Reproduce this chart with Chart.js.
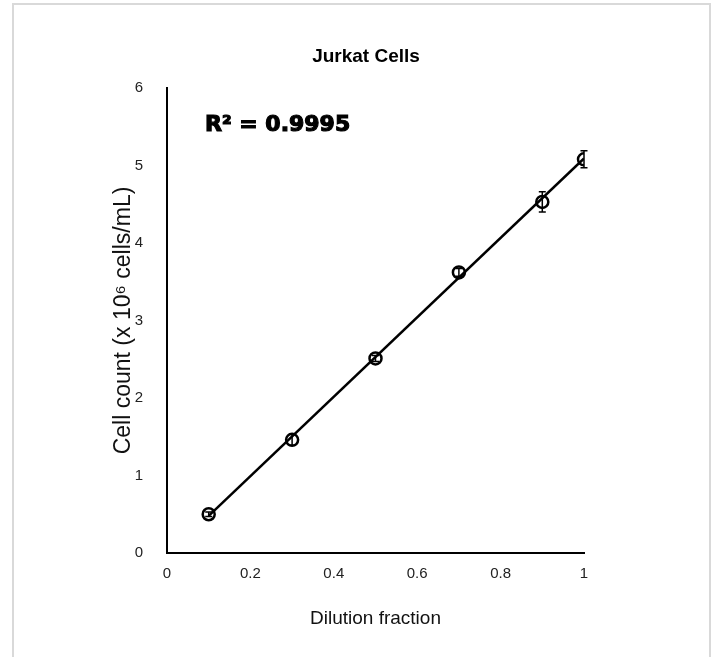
<!DOCTYPE html>
<html>
<head>
<meta charset="utf-8">
<script src="https://cdn.jsdelivr.net/npm/chart.js@4"></script>
<style>
  body { margin: 0; background: #fff; }
  #wrap { position: relative; width: 717px; height: 657px; }
  #frame { position: absolute; left: 12px; top: 3px; width: 699px; height: 700px; border: 2px solid #d9d9d9; box-sizing: border-box; }
  canvas { position: absolute; left: 0; top: 0; }
</style>
</head>
<body>
<div id="wrap">
  <div id="frame"></div>
  <canvas id="chart" width="717" height="657"></canvas>
</div>
<script>
// Data
const dilution = [0.1, 0.3, 0.5, 0.7, 0.9, 1.0];
const cellCount = [0.50, 1.46, 2.51, 3.62, 4.53, 5.08];
const errBar = [0.03, 0.07, 0.04, 0.05, 0.13, 0.11];
const trendX = [0.1, 1.0];
const trendY = [0.48, 5.09];
const xTicks = [0, 0.2, 0.4, 0.6, 0.8, 1];
const yTicks = [0, 1, 2, 3, 4, 5, 6];

const fam = "'Liberation Sans', Arial, sans-serif";
const tickFont = { family: fam, size: 15 };

// Error bars + title + R² text
const extras = {
  id: "extras",
  afterDatasetsDraw(chart) {
    const ctx = chart.ctx;
    const xs = chart.scales.x, ys = chart.scales.y;
    ctx.save();
    ctx.strokeStyle = "#000";
    ctx.lineWidth = 1.5;
    dilution.forEach((d, i) => {
      const px = xs.getPixelForValue(d);
      const top = ys.getPixelForValue(cellCount[i] + errBar[i]);
      const bot = ys.getPixelForValue(cellCount[i] - errBar[i]);
      ctx.beginPath();
      ctx.moveTo(px, top); ctx.lineTo(px, bot);
      ctx.moveTo(px - 3.5, top); ctx.lineTo(px + 3.5, top);
      ctx.moveTo(px - 3.5, bot); ctx.lineTo(px + 3.5, bot);
      ctx.stroke();
    });
    ctx.fillStyle = "#000";
    ctx.textAlign = "center";
    ctx.textBaseline = "middle";
    ctx.font = "bold 19px " + fam;
    ctx.fillText("Jurkat Cells", 366, 57);
    // heavy R² label
    ctx.textAlign = "left";
    ctx.font = "bold 22px 'DejaVu Sans', sans-serif";
    ctx.lineWidth = 1.2;
    ctx.strokeText("R² = 0.9995", 205, 125);
    ctx.fillText("R² = 0.9995", 205, 125);
    ctx.restore();
  }
};

new Chart(document.getElementById("chart"), {
  data: {
    datasets: [
      {
        type: "line",
        data: trendX.map((x, i) => ({ x: x, y: trendY[i] })),
        borderColor: "#000",
        borderWidth: 2.5,
        pointRadius: 0,
        fill: false
      },
      {
        type: "scatter",
        data: dilution.map((x, i) => ({ x: x, y: cellCount[i] })),
        pointRadius: 6,
        pointBorderWidth: 2.5,
        borderColor: "#000",
        backgroundColor: "rgba(0,0,0,0)"
      }
    ]
  },
  options: {
    responsive: false,
    animation: false,
    layout: { padding: { left: 110, top: 88, right: 133, bottom: 27 } },
    plugins: { legend: { display: false }, tooltip: { enabled: false }, title: { display: false } },
    scales: {
      x: {
        type: "linear",
        min: 0, max: 1,
        afterBuildTicks: s => { s.ticks = xTicks.map(v => ({ value: v })); },
        ticks: { font: tickFont, color: "#222", padding: 12, maxRotation: 0, callback: v => String(v) },
        grid: { display: false, drawTicks: false },
        border: { display: true, color: "#000", width: 2 },
        title: { display: true, text: "Dilution fraction", font: { family: fam, size: 19 }, color: "#111", padding: 0 },
        afterFit: s => { s.height = 77; }
      },
      y: {
        type: "linear",
        min: 0, max: 6,
        afterBuildTicks: s => { s.ticks = yTicks.map(v => ({ value: v })); },
        ticks: { font: tickFont, color: "#222", padding: 24, callback: v => String(v) },
        grid: { display: false, drawTicks: false },
        border: { display: true, color: "#000", width: 2 },
        title: { display: true, text: "Cell count (x 10⁶ cells/mL)", font: { family: fam, size: 23 }, color: "#111", padding: 0 },
        afterFit: s => { s.width = 57; }
      }
    }
  },
  plugins: [extras]
});
</script>
</body>
</html>
